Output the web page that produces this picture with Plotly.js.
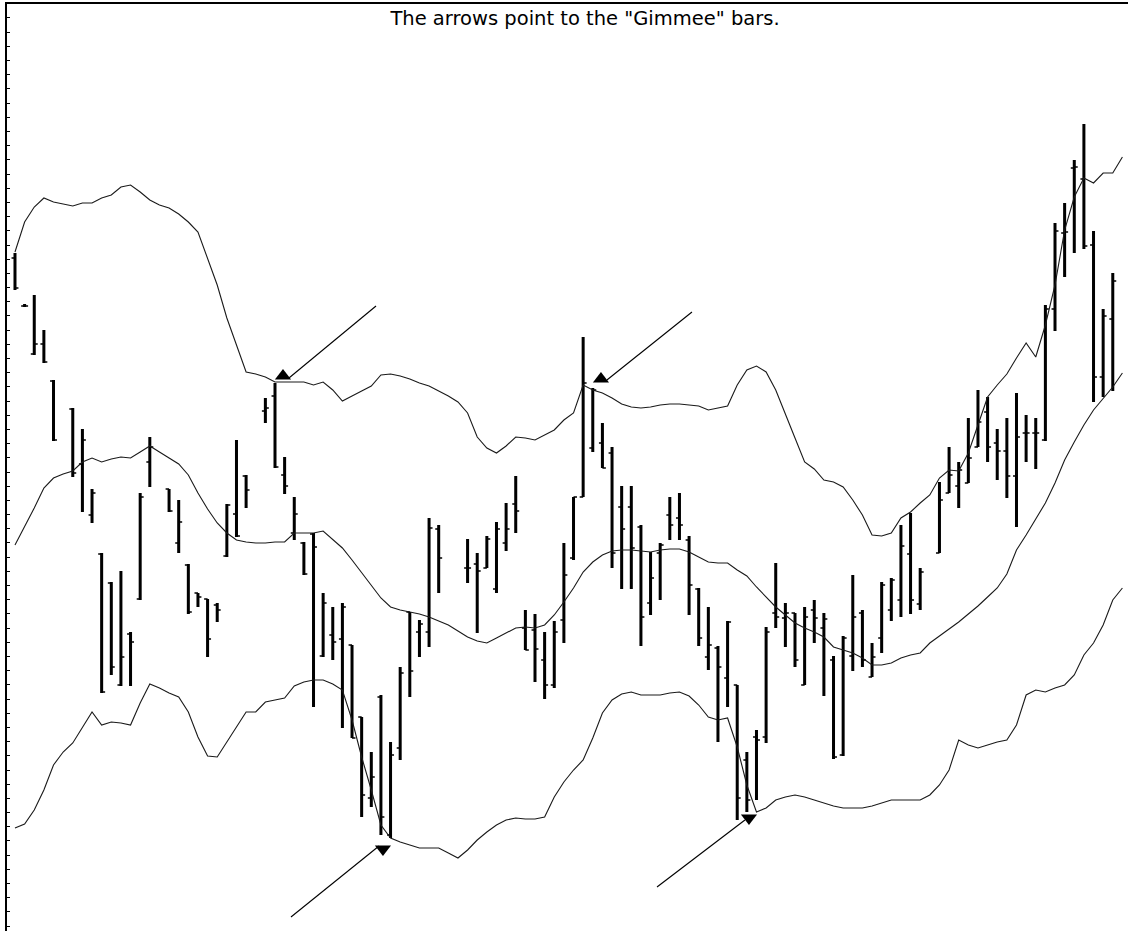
<!DOCTYPE html>
<html>
<head>
<meta charset="utf-8">
<script src="https://cdn.plot.ly/plotly-3.0.1.min.js"></script>
<style>html,body{margin:0;padding:0;background:#fff;}#chart{width:1128px;height:931px;}</style>
</head>
<body>
<div id="chart"></div>
<script>
// Bar slots (trading days); gaps where no bar was drawn
const barSlot = [0,1,2,3,4,6,7,8,9,10,11,12,13,14,16,17,18,19,20,21,22,23,24,26,27,28,29,30,31,32,33,34,35,36,37,38,39,40,41,42,43,44,47,48,49,50,51,52,53,54,55,56,57,58,59,60,61,62,63,64,65,66,67,68,69,70,71,72,73,74,75,76,77,78,79,80,81,82,83,84,85,86,87,88,89,90,91,92,93,94,96,97,98,99,100,101,102,103,104,105,106,107,108,109,110,111,112,113,114];
const openP  = [673,625,577,587,550,522,467,416,377,348,246,297,332,469,442,388,366,338,332,326,375,417,455,520,535,456,398,388,397,275,296,292,286,214,133,234,96,183,319,299,299,402,363,367,363,342,388,427,303,301,271,246,311,373,434,483,488,478,424,424,404,328,378,416,413,391,342,274,283,253,246,171,194,194,318,313,318,246,321,303,271,176,275,318,254,293,321,331,377,327,378,438,445,448,484,519,488,480,455,498,498,491,622,698,763,752,686,554,612];
const highP  = [678,627,636,601,551,523,502,442,378,349,360,299,438,494,442,431,367,338,332,328,427,491,456,533,548,474,434,389,398,338,324,328,286,214,179,236,189,264,319,311,413,406,392,378,395,409,428,455,321,317,299,310,388,434,594,543,508,484,445,445,406,379,388,434,438,395,343,324,285,310,246,179,201,304,368,328,318,324,331,318,275,295,356,321,288,349,353,406,418,363,449,484,469,513,541,534,502,513,538,516,513,626,708,728,771,807,700,622,658];
const lowP   = [641,624,576,568,490,454,419,408,238,256,245,245,331,444,419,378,317,324,274,309,374,394,423,508,463,437,391,356,224,274,271,203,193,114,124,96,93,171,234,274,284,338,348,298,363,338,380,398,281,249,232,243,288,371,434,479,463,363,342,342,285,316,331,391,391,316,285,261,189,224,111,119,131,188,303,284,264,246,288,235,172,175,260,264,254,278,310,314,317,321,378,438,423,448,484,469,451,433,404,469,462,490,600,654,678,682,529,534,540];
const closeP = [643,625,587,569,491,458,491,438,239,264,274,289,434,484,420,409,319,334,292,321,426,395,441,523,464,445,417,357,384,328,289,324,193,136,154,114,176,258,260,307,403,373,363,360,392,402,402,420,281,282,246,299,356,434,548,541,463,378,402,383,314,353,386,406,406,346,293,286,264,309,133,131,191,299,314,318,271,314,313,312,174,293,314,271,274,346,351,385,331,359,431,456,461,473,509,484,480,455,494,498,498,622,700,699,764,685,554,615,650];

// Bollinger bands, one value per slot 0..115
const bandSlot = [0,1,2,3,4,5,6,7,8,9,10,11,12,13,14,15,16,17,18,19,20,21,22,23,24,25,26,27,28,29,30,31,32,33,34,35,36,37,38,39,40,41,42,43,44,45,46,47,48,49,50,51,52,53,54,55,56,57,58,59,60,61,62,63,64,65,66,67,68,69,70,71,72,73,74,75,76,77,78,79,80,81,82,83,84,85,86,87,88,89,90,91,92,93,94,95,96,97,98,99,100,101,102,103,104,105,106,107,108,109,110,111,112,113,114,115];
const upperBand = [679,709,724,733,729,727,725,728,728,733,736,744,746,739,731,726,723,717,709,699,673,646,613,586,559,557,554,549,549,549,549,546,549,541,530,535,540,545,556,557,555,552,548,545,540,535,529,518,494,483,478,485,494,493,491,496,501,511,518,546,541,538,533,527,524,523,524,526,527,527,526,525,521,523,525,546,561,565,559,541,516,493,469,462,451,449,444,431,416,396,395,398,413,419,428,436,453,461,460,478,506,534,546,557,573,588,574,606,646,701,734,753,748,758,758,774];
const middleBand = [386,404,423,443,453,457,460,469,473,469,472,474,473,479,485,479,473,467,456,438,422,408,398,391,389,388,388,389,389,398,398,398,400,391,383,371,358,346,333,324,321,319,317,314,310,306,300,294,290,288,293,298,303,304,303,306,316,329,343,359,369,376,380,381,381,380,379,381,382,382,379,374,369,368,368,361,355,344,334,324,316,308,303,299,294,284,281,278,273,266,266,268,273,276,278,288,295,302,309,317,325,334,343,357,381,396,412,428,448,471,489,506,521,533,544,558];
const lowerBand = [103,107,121,141,166,179,188,204,219,206,209,208,206,228,247,243,238,234,219,194,175,174,189,204,219,219,229,231,233,245,249,251,251,247,241,211,174,141,106,93,89,86,83,83,83,78,73,81,91,99,106,111,113,112,112,114,134,149,161,171,193,218,231,237,239,236,236,236,238,239,235,226,214,211,213,184,146,119,123,131,134,136,134,131,128,125,123,123,123,125,128,131,131,131,131,136,146,161,191,186,183,186,189,191,206,236,241,239,243,246,256,276,288,306,331,343];

// "Gimmee" arrows: triangle tip and pointer line (slot, price)
const arrowSymbol = ['triangle-up','triangle-up','triangle-down','triangle-down'];
const arrowX  = [27.83, 60.85, 38.21, 76.22];
const arrowY  = [555, 552, 82, 113];
const pointerFromX = [28.45, 61.47, 37.80, 75.80];
const pointerFromY = [553, 551, 85, 111];
const pointerToX   = [37.49, 70.30, 28.66, 66.67];
const pointerToY   = [625, 619, 14, 44];

const titleText = 'The arrows point to the "Gimmee" bars.';

const pX = [], pY = [];
for (let i = 0; i < pointerFromX.length; i++) {
  pX.push(pointerFromX[i], pointerToX[i], null);
  pY.push(pointerFromY[i], pointerToY[i], null);
}

const bandLine = {color: '#1a1a1a', width: 1.1};
const traces = [
  {type: 'scatter', mode: 'lines', x: bandSlot, y: upperBand, line: bandLine, hoverinfo: 'skip'},
  {type: 'scatter', mode: 'lines', x: bandSlot, y: middleBand, line: bandLine, hoverinfo: 'skip'},
  {type: 'scatter', mode: 'lines', x: bandSlot, y: lowerBand, line: bandLine, hoverinfo: 'skip'},
  {type: 'ohlc', x: barSlot, open: openP, high: highP, low: lowP, close: closeP, tickwidth: 0.36,
   increasing: {line: {color: '#000', width: 1.6}}, decreasing: {line: {color: '#000', width: 1.6}}},
  {type: 'ohlc', x: barSlot, open: openP, high: highP, low: lowP, close: closeP, tickwidth: 0.001,
   increasing: {line: {color: '#000', width: 3}}, decreasing: {line: {color: '#000', width: 3}}},
  {type: 'scatter', mode: 'lines', x: pX, y: pY, line: {color: '#000', width: 1.1}, hoverinfo: 'skip'},
  {type: 'scatter', mode: 'markers', x: arrowX, y: arrowY,
   marker: {symbol: arrowSymbol, size: 14, color: '#000', line: {width: 0}}, hoverinfo: 'skip'}
];

const layout = {
  width: 1128, height: 931,
  margin: {l: 7, r: 0, t: 4, b: 0, pad: 0},
  paper_bgcolor: '#fff', plot_bgcolor: '#fff',
  showlegend: false,
  title: {text: titleText, x: 585/1128, xref: 'container', xanchor: 'center',
          y: 1 - 18/931, yref: 'container', yanchor: 'middle',
          font: {family: 'DejaVu Sans, Arial, sans-serif', size: 19.5, color: '#000'}},
  xaxis: {range: [-0.83, 115.58], showgrid: false, zeroline: false, showticklabels: false,
          showline: true, side: 'top', linecolor: '#000', linewidth: 2, ticks: '',
          rangeslider: {visible: false}, fixedrange: true},
  yaxis: {range: [0, 927], showgrid: false, zeroline: false, showticklabels: false,
          showline: true, linecolor: '#000', linewidth: 2, ticks: 'inside', ticklen: 3,
          tickwidth: 1, tickcolor: '#000', tick0: 4.88, dtick: 14.19, fixedrange: true}
};

Plotly.newPlot('chart', traces, layout, {displayModeBar: false, staticPlot: true});
</script>
</body>
</html>
